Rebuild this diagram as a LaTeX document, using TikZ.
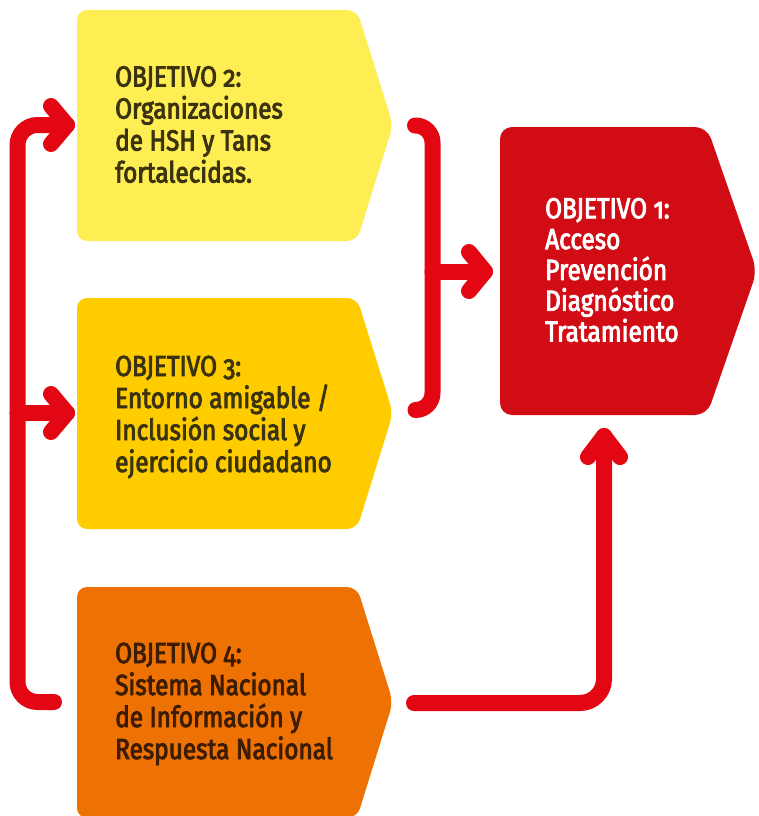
\documentclass[tikz,border=0pt]{standalone}
\usepackage{fontspec}
\setmainfont{Fira Sans}[Numbers=OldStyle, FakeStretch=0.84, FakeBold=3]
\usetikzlibrary{calc}
\definecolor{yel}{HTML}{FFED54}
\definecolor{goldc}{HTML}{FFCC00}
\definecolor{ora}{HTML}{EE7203}
\definecolor{redbox}{HTML}{D20C14}
\definecolor{conred}{HTML}{E30613}
\definecolor{txtdark}{HTML}{3B3310}
\definecolor{txtbrown}{HTML}{3D1C04}
\begin{document}
\begin{tikzpicture}[x=1pt,y=-1pt,
  box/.style={rounded corners=10pt},
  conn/.style={draw=conred, line width=16pt, line cap=round, line join=round},
  lbl/.style={anchor=base west, align=left, inner sep=0pt, font=\fontsize{29}{32}\selectfont},
  lblred/.style={anchor=base west, align=left, inner sep=0pt, font=\fontsize{29}{30.8}\selectfont, text=white}
]
\useasboundingbox (0,0) rectangle (759,816);
\begin{scope}
\clip (0,0) rectangle (759,816);
% boxes
\fill[yel, box] (77,10) -- (357,10) -- (393,125) -- (357,241) -- (77,241) -- cycle;
\fill[goldc, box] (77,298) -- (357,298) -- (393,413) -- (357,529) -- (77,529) -- cycle;
\fill[ora, box] (77,587) -- (357,587) -- (393,702) -- (357,818) -- (77,818) -- cycle;
\fill[redbox, rounded corners=12pt] (500,127) -- (707,127) -- (757,271) -- (707,415) -- (500,415) -- cycle;
\end{scope}
% labels (anchored at the baseline of their last line)
\node[lbl, text=txtdark] (o2) at (115,182.5) {OBJETIVO 2:\\Organizaciones\\de HSH y Tans\\fortalecidas.};
\node[lbl, text=txtdark] (o3) at (115,472) {OBJETIVO 3:\\Entorno amigable /\\Inclusión social y\\ejercicio ciudadano};
\node[lbl, text=txtbrown] (o4) at (115,759) {OBJETIVO 4:\\Sistema Nacional\\de Información y\\Respuesta Nacional};
\node[lblred] (o1) at (545,341.5) {OBJETIVO 1:\\Acceso\\Prevención\\Diagnóstico\\Tratamiento};
% connector points
\coordinate (s4) at (54,702);
\coordinate (lc) at (17.5,702);
\coordinate (lt) at (17.5,125);
\coordinate (lm) at (17.5,413);
\coordinate (a2) at (67,125);
\coordinate (a3) at (67,413);
\coordinate (bt) at (415,125.5);
\coordinate (bb) at (417,410);
\coordinate (bm) at (432.5,271.5);
\coordinate (a1) at (485,271.5);
\coordinate (s4r) at (414,703);
\coordinate (a1b) at (604,436);
% left connector
\draw[conn, rounded corners=20pt] (s4) -- (lc) -- (lt) -- (a2);
\draw[conn] (lm) -- (a3);
\draw[conn] ($(a2)+(-16,-19)$) -- (a2) -- ($(a2)+(-16,19)$);
\draw[conn] ($(a3)+(-16,-19)$) -- (a3) -- ($(a3)+(-16,19)$);
% right bracket
\draw[conn, rounded corners=17pt] (bt) -- (432.5,125.5) -- (432.5,410) -- (bb);
\draw[conn] (bm) -- (a1);
\draw[conn] ($(a1)+(-16,-19.5)$) -- (a1) -- ($(a1)+(-16,19.5)$);
% bottom connector
\draw[conn, rounded corners=24pt] (s4r) -- (604,703) -- (a1b);
\draw[conn] ($(a1b)+(-16,21)$) -- (a1b) -- ($(a1b)+(16,21)$);
\end{tikzpicture}
\end{document}
